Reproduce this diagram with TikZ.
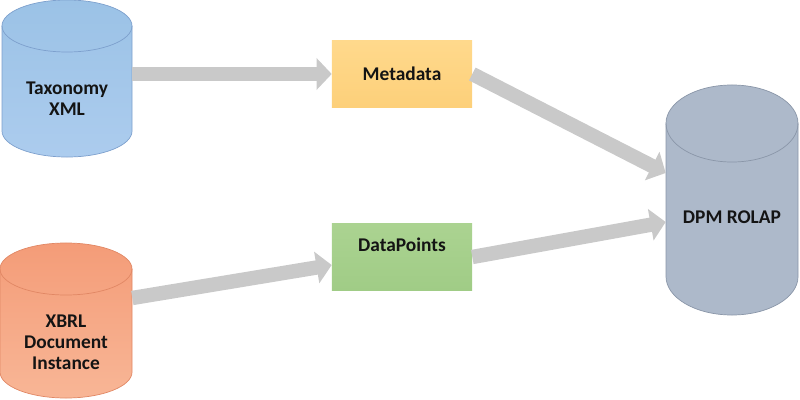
\documentclass[tikz,border=0pt]{standalone}
\usepackage{fontspec}
\setmainfont{Carlito}
\usetikzlibrary{arrows.meta}
\definecolor{taxtop}{RGB}{155,194,230}
\definecolor{taxbot}{RGB}{172,204,238}
\definecolor{taxline}{RGB}{125,160,205}
\definecolor{xbrltop}{RGB}{244,156,120}
\definecolor{xbrlbot}{RGB}{248,182,150}
\definecolor{xbrlline}{RGB}{225,135,100}
\definecolor{dpmfill}{RGB}{173,185,202}
\definecolor{dpmline}{RGB}{138,150,168}
\definecolor{metatop}{RGB}{255,217,140}
\definecolor{metabot}{RGB}{253,208,122}
\definecolor{dptop}{RGB}{171,211,145}
\definecolor{dpbot}{RGB}{160,204,134}
\definecolor{flowgray}{RGB}{201,201,201}
\definecolor{textgray}{RGB}{20,20,20}
\begin{document}
\begin{tikzpicture}[x=0.025cm,y=-0.025cm,
  label/.style={font=\fontsize{13.8}{15}\selectfont\bfseries, text=textgray},
  dbtext/.style={label, align=center, minimum width=3.3cm},
  box/.style={label, rectangle, minimum width=3.5cm, minimum height=1.65cm},
  flow/.style={draw=flowgray, line width=0.36cm, -{Triangle[width=0.78cm,length=0.38cm]}}]
\useasboundingbox (0,0) rectangle (800,400);
\shade [top color=taxtop, bottom color=taxbot, draw=taxline, line width=0.5pt] (2,26) -- (2,131) arc[start angle=180, end angle=360, x radius=1.625cm, y radius=0.65cm] -- (132,26) arc[start angle=0, end angle=180, x radius=1.625cm, y radius=0.65cm] -- cycle;
\draw [taxline, line width=0.5pt] (2,26) arc[start angle=180, end angle=360, x radius=1.625cm, y radius=0.65cm];
\shade [top color=xbrltop, bottom color=xbrlbot, draw=xbrlline, line width=0.5pt] (0,269) -- (0,372) arc[start angle=180, end angle=360, x radius=1.65cm, y radius=0.65cm] -- (132,269) arc[start angle=0, end angle=180, x radius=1.65cm, y radius=0.65cm] -- cycle;
\draw [xbrlline, line width=0.5pt] (0,269) arc[start angle=180, end angle=360, x radius=1.65cm, y radius=0.65cm];
\filldraw [fill=dpmfill, draw=dpmline, line width=0.5pt] (666,123.5) -- (666,276.5) arc[start angle=180, end angle=360, x radius=1.65cm, y radius=0.9625cm] -- (798,123.5) arc[start angle=0, end angle=180, x radius=1.65cm, y radius=0.9625cm] -- cycle;
\draw [dpmline, line width=0.5pt] (666,123.5) arc[start angle=180, end angle=360, x radius=1.65cm, y radius=0.9625cm];
\node [dbtext, minimum width=3.25cm] (tax) at (67,99) {Taxonomy\\XML};
\node [dbtext] (xbrl) at (66,342) {XBRL\\Document\\Instance};
\node [dbtext] (dpm) at (732,217) {DPM ROLAP};
\node [box, top color=metatop, bottom color=metabot] (meta) at (402,74) {Metadata};
\node [box, top color=dptop, bottom color=dpbot, text depth=0.6cm] (dp) at (402,257) {DataPoints};
\draw [flow] (tax.east |- meta.west) -- (meta.west);
\draw [flow] (meta.east) -- ([yshift=1.1cm]dpm.west);
\draw [flow] (dp.east) -- ([yshift=-0.125cm]dpm.west);
\draw [flow] ([yshift=1.1cm]xbrl.east) -- ([yshift=-0.2cm]dp.west);
\end{tikzpicture}
\end{document}
